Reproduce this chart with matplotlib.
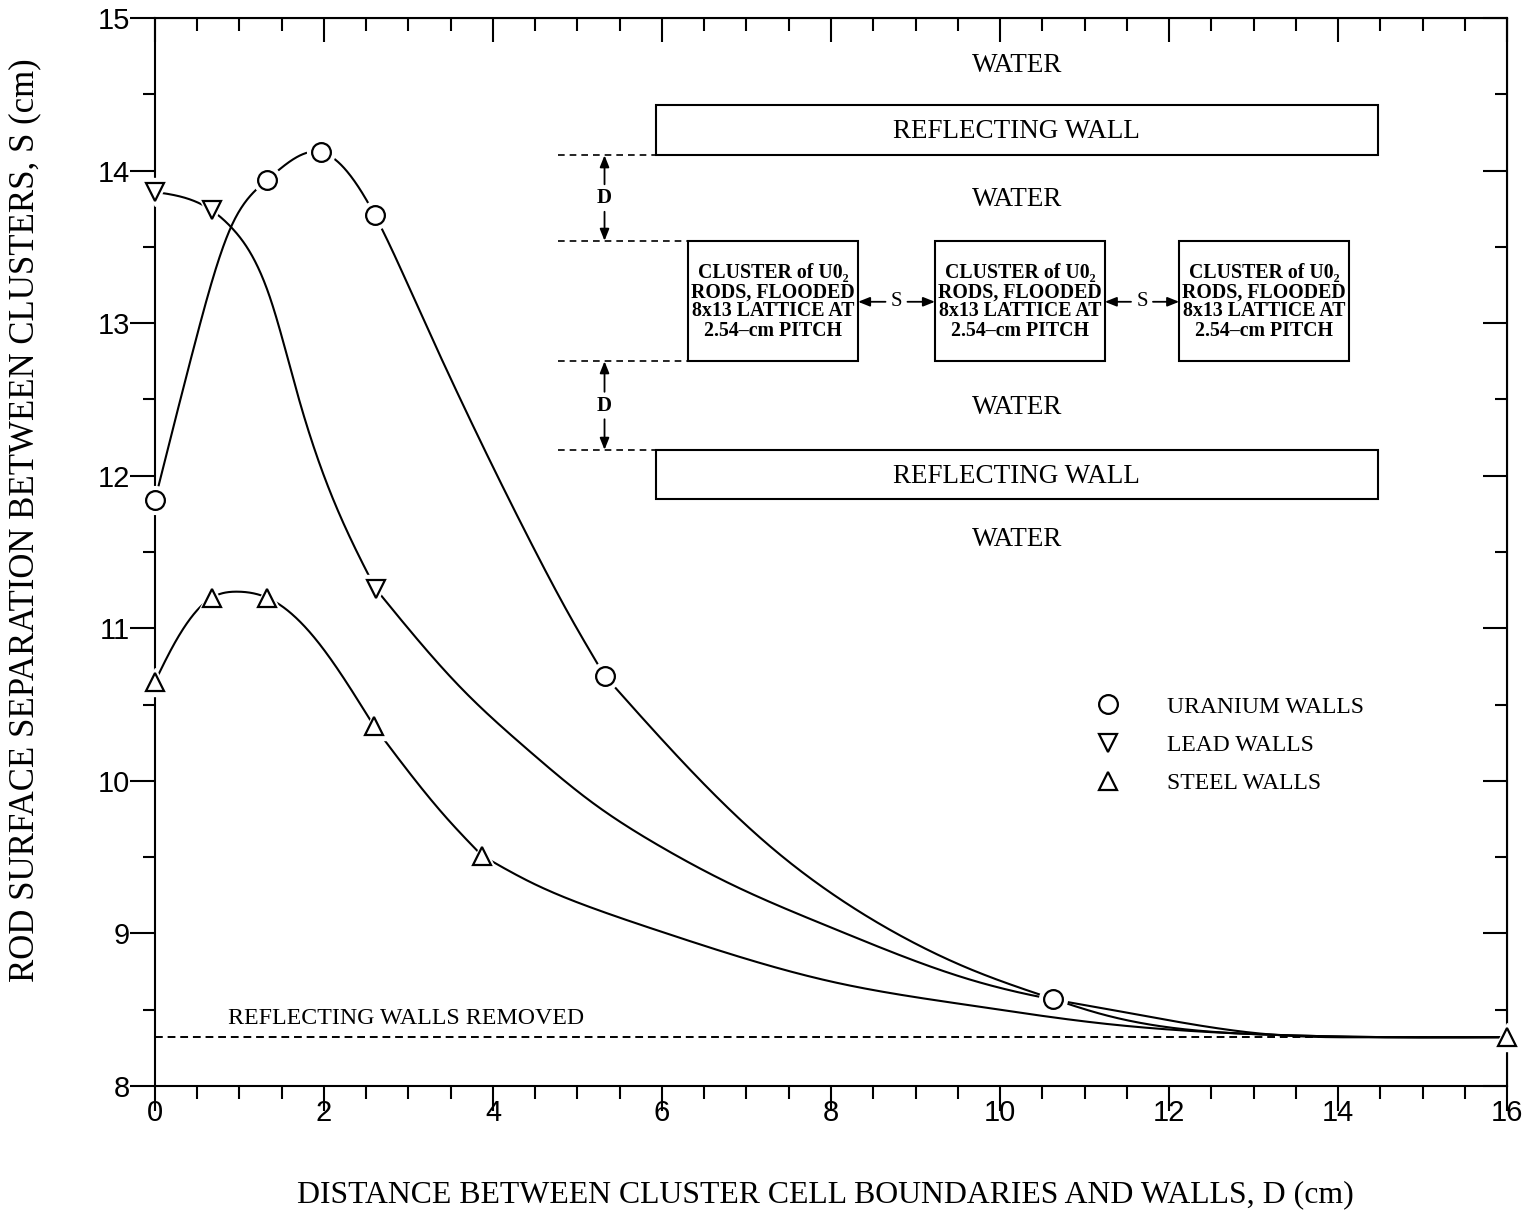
import numpy as np
import matplotlib

matplotlib.use("Agg")
import matplotlib.pyplot as plt
from matplotlib.lines import Line2D
from matplotlib.patches import Rectangle
from matplotlib.ticker import MultipleLocator

SERIF = ["Liberation Serif", "DejaVu Serif"]
SANS = ["Liberation Sans", "DejaVu Sans"]

# marker points: D (cm) vs S (cm)
uranium_d = [0.0, 1.33, 1.97, 2.60, 5.32, 10.63]
uranium_s = [11.84, 13.94, 14.12, 13.71, 10.69, 8.57]
lead_d = [0.0, 0.67, 2.61]
lead_s = [13.86, 13.74, 11.26]
steel_d = [0.0, 0.67, 1.33, 2.59, 3.87, 16.0]
steel_s = [10.65, 11.20, 11.20, 10.36, 9.51, 8.32]

# extra points (no markers there)
uranium_curve_d = [0.46, 0.90, 3.10, 4.45, 4.91, 6.46, 7.26, 8.04, 8.84, 9.63, 11.21, 13.26,
                   14.6, 16.0]
uranium_curve_s = [12.84, 13.63, 13.12, 11.56, 11.08, 10.00, 9.58, 9.25, 8.98, 8.77, 8.47, 8.335,
                   8.32, 8.32]
lead_curve_d = [0.90, 1.36, 1.70, 2.02, 3.62, 4.40, 5.17, 5.95, 6.79, 8.04, 9.63, 10.42, 11.21,
                13.26, 14.6, 16.0]
lead_curve_s = [13.63, 13.17, 12.51, 11.97, 10.61, 10.21, 9.86, 9.58, 9.33, 9.03, 8.70, 8.59, 8.51,
                8.335, 8.32, 8.32]
steel_curve_d = [0.22, 0.97, 1.87, 3.43, 4.43, 5.21, 6.00, 8.04, 9.63, 11.21, 13.26, 14.6]
steel_curve_s = [10.89, 11.24, 10.95, 9.77, 9.34, 9.16, 9.01, 8.68, 8.53, 8.41, 8.335, 8.32]

# markers where the hand-drawn curves change direction abruptly
uranium_breaks = [5.32]
lead_breaks = [2.61]
steel_breaks = [2.59, 3.87]

walls_removed_s = 8.32
legend_labels = ["URANIUM WALLS", "LEAD WALLS", "STEEL WALLS"]
cluster_text = "CLUSTER of U0\u2082\nRODS, FLOODED\n8x13 LATTICE AT\n2.54\u2013cm PITCH"


def natural_spline(x, y, xs):
    n = len(x)
    if n == 2:
        return np.interp(xs, x, y)
    h = np.diff(x)
    d = np.diff(y) / h
    A = np.zeros((n, n))
    r = np.zeros(n)
    A[0, 0] = A[-1, -1] = 1.0
    for i in range(1, n - 1):
        A[i, i - 1] = h[i - 1]
        A[i, i] = 2 * (h[i - 1] + h[i])
        A[i, i + 1] = h[i]
        r[i] = 6 * (d[i] - d[i - 1])
    M = np.linalg.solve(A, r)
    i = np.clip(np.searchsorted(x, xs) - 1, 0, n - 2)
    a = x[i + 1] - xs
    b = xs - x[i]
    hi = h[i]
    return (M[i] * a**3 / (6 * hi) + M[i + 1] * b**3 / (6 * hi)
            + (y[i] / hi - M[i] * hi / 6) * a + (y[i + 1] / hi - M[i + 1] * hi / 6) * b)


def curve(xm, ym, xc, yc, breaks):
    xs = np.array(list(xm) + list(xc), float)
    ys = np.array(list(ym) + list(yc), float)
    order = np.argsort(xs)
    xs, ys = xs[order], ys[order]
    edges = [xs[0]] + list(breaks) + [xs[-1]]
    px, py = [], []
    for lo, hi in zip(edges[:-1], edges[1:]):
        sel = (xs >= lo - 1e-9) & (xs <= hi + 1e-9)
        xx = np.linspace(lo, hi, 600)
        px.append(xx)
        py.append(natural_spline(xs[sel], ys[sel], xx))
    return np.concatenate(px), np.concatenate(py)


fig = plt.figure(figsize=(15.28, 12.16), dpi=100)
ax = fig.add_axes([0.1014, 0.1069, 0.8849, 0.8783])
ax.set_xlim(0, 16)
ax.set_ylim(8, 15)

series = [
    (uranium_d, uranium_s, uranium_curve_d, uranium_curve_s, uranium_breaks, "o"),
    (lead_d, lead_s, lead_curve_d, lead_curve_s, lead_breaks, "v"),
    (steel_d, steel_s, steel_curve_d, steel_curve_s, steel_breaks, "^"),
]
for xm, ym, xc, yc, br, mk in series:
    xx, yy = curve(xm, ym, xc, yc, br)
    ax.plot(xx, yy, color="black", lw=1.5, zorder=2, clip_on=False)
for xm, ym, xc, yc, br, mk in series:
    ax.plot(xm, ym, ls="none", marker=mk, ms=20, mfc="white", mec="white", zorder=3, clip_on=False)
    ax.plot(xm, ym, ls="none", marker=mk, ms=13.5, mfc="white", mec="black", mew=1.6,
            zorder=4, clip_on=False)

ax.axhline(walls_removed_s, color="black", lw=1.4, ls=(0, (4, 2.5)), zorder=1)
ax.text(0.86, walls_removed_s + 0.125, "REFLECTING WALLS REMOVED", family=SERIF, fontsize=17.2,
        va="center", ha="left")

# schematic of the arrangement
txt = dict(family=SERIF, ha="center", va="center")
ax.add_patch(Rectangle((5.93, 14.10), 8.54, 0.33, fill=False, lw=1.5))
ax.add_patch(Rectangle((5.93, 11.85), 8.54, 0.32, fill=False, lw=1.5))
ax.text(10.2, 14.69, "WATER", fontsize=19.5, **txt)
ax.text(10.2, 14.255, "REFLECTING WALL", fontsize=19.5, **txt)
ax.text(10.2, 13.81, "WATER", fontsize=19.5, **txt)
ax.text(10.2, 12.45, "WATER", fontsize=19.5, **txt)
ax.text(10.2, 11.995, "REFLECTING WALL", fontsize=19.5, **txt)
ax.text(10.2, 11.58, "WATER", fontsize=19.5, **txt)

box_left = [6.31, 9.23, 12.12]
box_w = 2.01
arrow = dict(arrowstyle="-|>,head_length=0.7,head_width=0.28", color="black", lw=1.3,
             shrinkA=0, shrinkB=0)
for bx in box_left:
    ax.add_patch(Rectangle((bx, 12.75), box_w, 0.79, fill=False, lw=1.5))
    ax.text(bx + box_w / 2, 13.14, cluster_text, fontsize=14.3, fontweight="bold",
            linespacing=0.95, **txt)
for a, b in zip(box_left[:-1], box_left[1:]):
    mid = (a + box_w + b) / 2
    ax.text(mid, 13.14, "S", fontsize=15, **txt)
    ax.annotate("", xy=(a + box_w, 13.14), xytext=(mid - 0.13, 13.14), arrowprops=arrow)
    ax.annotate("", xy=(b, 13.14), xytext=(mid + 0.13, 13.14), arrowprops=arrow)

dash = dict(color="black", lw=1.2, ls=(0, (4, 3)))
ax.plot([4.77, 5.93], [14.10, 14.10], **dash)
ax.plot([4.77, 6.31], [13.54, 13.54], **dash)
ax.plot([4.77, 6.31], [12.75, 12.75], **dash)
ax.plot([4.77, 5.93], [12.17, 12.17], **dash)
for top, bot in [(14.10, 13.54), (12.75, 12.17)]:
    mid = (top + bot) / 2
    ax.text(5.32, mid, "D", fontsize=15, fontweight="bold", **txt)
    ax.annotate("", xy=(5.32, top), xytext=(5.32, mid + 0.09), arrowprops=arrow)
    ax.annotate("", xy=(5.32, bot), xytext=(5.32, mid - 0.09), arrowprops=arrow)

handles = [Line2D([], [], ls="none", marker=mk, ms=13.5, mfc="white", mec="black", mew=1.6)
           for mk in ["o", "v", "^"]]
ax.legend(handles, legend_labels, loc="center left", bbox_to_anchor=(11.0, 10.235),
          bbox_transform=ax.transData, frameon=False, borderpad=0, handlelength=1.0,
          handletextpad=2.0, labelspacing=0.70, numpoints=1,
          prop=dict(family=SERIF, size=17))

# axes, ticks
for sp in ax.spines.values():
    sp.set_linewidth(1.5)
ax.set_xticks(np.arange(0, 17, 2))
ax.set_yticks(np.arange(8, 16, 1))
ax.xaxis.set_minor_locator(MultipleLocator(0.5))
ax.yaxis.set_minor_locator(MultipleLocator(0.5))
ax.tick_params(which="both", direction="out", width=1.5, top=False, right=False)
ax.tick_params(which="major", length=18)
ax.tick_params(which="minor", length=9)
ax.tick_params(axis="x", pad=-9)
ax.tick_params(axis="y", pad=0)
for lab in ax.get_xticklabels() + ax.get_yticklabels():
    lab.set_family(SANS)
    lab.set_fontsize(21)

secx = ax.secondary_xaxis("top")
secx.set_xticks(np.arange(0, 17, 2))
secx.xaxis.set_minor_locator(MultipleLocator(0.5))
secx.tick_params(which="both", direction="in", width=1.5, labeltop=False)
secx.tick_params(which="major", length=17)
secx.tick_params(which="minor", length=9)
secy = ax.secondary_yaxis("right")
secy.set_yticks(np.arange(8, 16, 1))
secy.yaxis.set_minor_locator(MultipleLocator(0.5))
secy.tick_params(which="both", direction="in", width=1.5, labelright=False)
secy.tick_params(which="major", length=17)
secy.tick_params(which="minor", length=9)

fig.text(0.540, 0.0173, "DISTANCE BETWEEN CLUSTER CELL BOUNDARIES AND WALLS, D (cm)",
         family=SERIF, fontsize=22.9, ha="center", va="center")
fig.text(0.0164, 0.572, "ROD SURFACE SEPARATION BETWEEN CLUSTERS, S (cm)",
         family=SERIF, fontsize=25, ha="center", va="center", rotation=90)

fig.savefig("out.png", dpi=100)
